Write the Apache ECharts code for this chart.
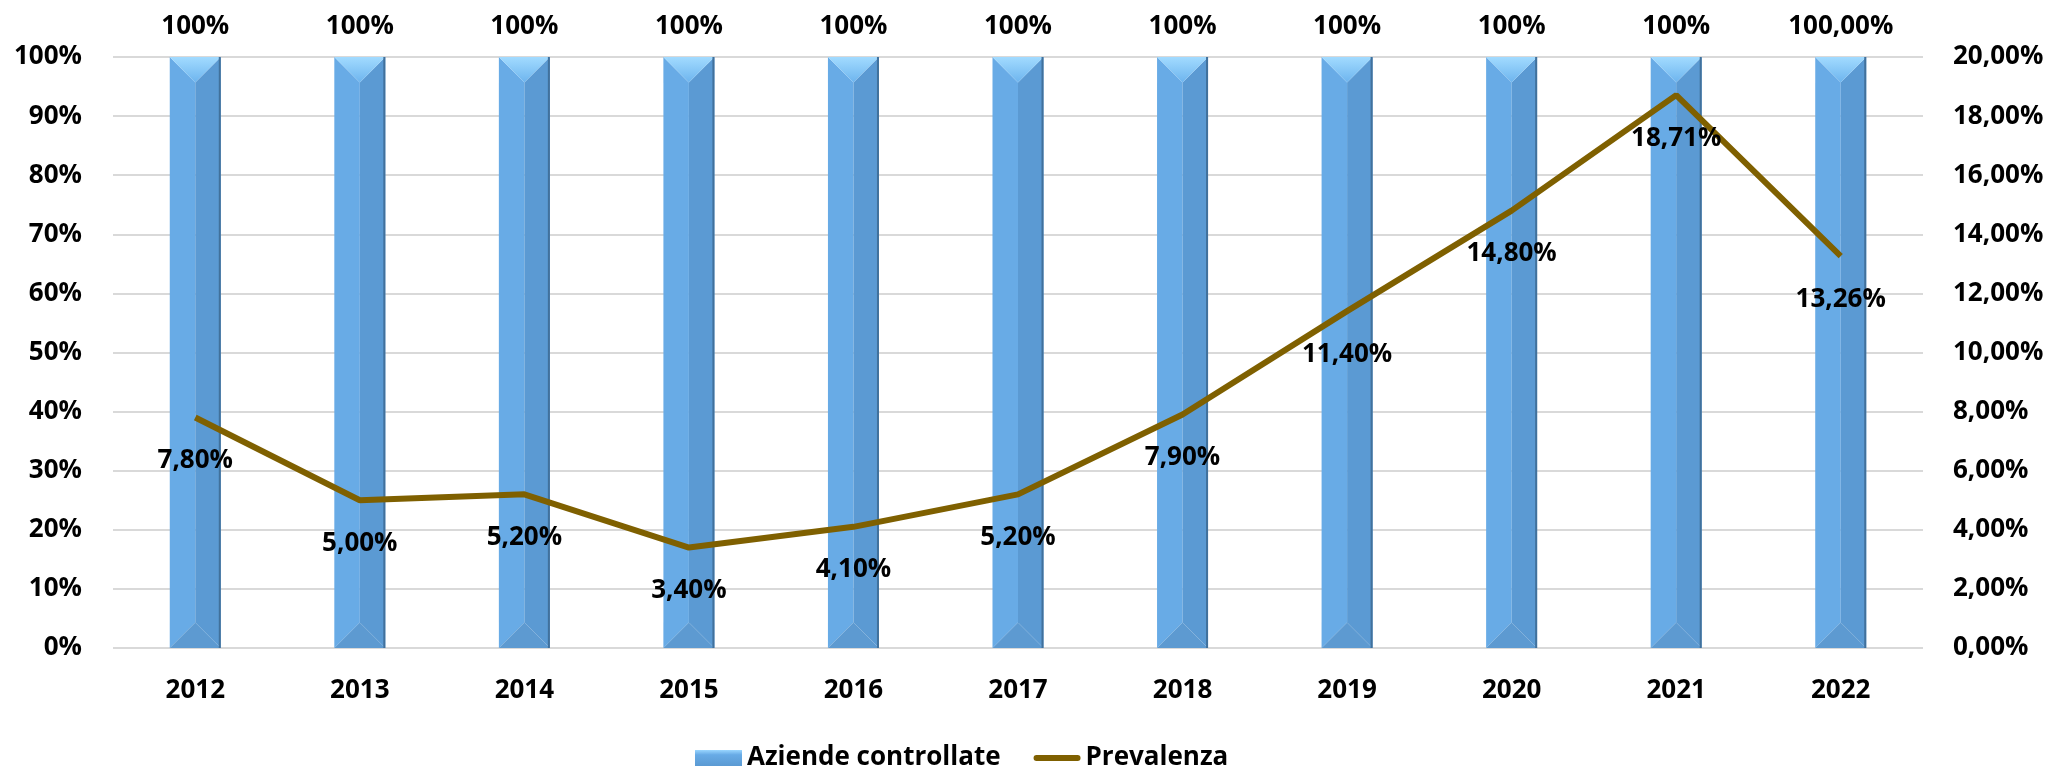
<!DOCTYPE html>
<html>
<head>
<meta charset="utf-8">
<script src="https://cdn.jsdelivr.net/npm/echarts@6/dist/echarts.min.js"></script>
<style>
html,body{margin:0;padding:0;background:#fff;}
#c{width:2053px;height:769px;}
</style>
</head>
<body>
<div id="c"></div>
<script>
const categories = ['2012','2013','2014','2015','2016','2017','2018','2019','2020','2021','2022'];
const aziendeControllate = [100,100,100,100,100,100,100,100,100,100,100];
const aziendeLabels = ['100%','100%','100%','100%','100%','100%','100%','100%','100%','100%','100,00%'];
const prevalenza = [7.80,5.00,5.20,3.40,4.10,5.20,7.90,11.40,14.80,18.71,13.26];
const leftTicks = ['0%','10%','20%','30%','40%','50%','60%','70%','80%','90%','100%'];
const rightTicks = ['0,00%','2,00%','4,00%','6,00%','8,00%','10,00%','12,00%','14,00%','16,00%','18,00%','20,00%'];

const FONT = 'Open Sans';
const FS = 26;
const chart = echarts.init(document.getElementById('c'));

function renderBar(params, api){
  const idx = api.value(0);
  const val = api.value(1);
  const top = api.coord([idx, val]);
  const bot = api.coord([idx, 0]);
  const w = api.size([1,0])[0] * 0.31;
  const cx = top[0];
  const l = cx - w/2, r = cx + w/2;
  const t = top[1], b = bot[1];
  const h = w/2;
  return {
    type:'group',
    children:[
      {type:'polygon', shape:{points:[[l,t],[cx,t+h],[cx,b-h],[l,b]]}, style:{fill:'#68ABE6'}},
      {type:'polygon', shape:{points:[[cx,t+h],[r,t],[r,b],[cx,b-h]]}, style:{fill:'#5B9AD3'}},
      {type:'polygon', shape:{points:[[l,t],[r,t],[cx,t+h]]}, style:{fill:new echarts.graphic.LinearGradient(0,0,0,1,[{offset:0,color:'#A2DBFF'},{offset:1,color:'#6DB4EE'}])}},
      {type:'polygon', shape:{points:[[l,b],[cx,b-h],[r,b]]}, style:{fill:'#5D9AD1'}},
      {type:'line', shape:{x1:r-1,y1:t,x2:r-1,y2:b}, style:{stroke:'#41719C',lineWidth:2}},
      {type:'text', x:cx, y:t-17, style:{text:aziendeLabels[params.dataIndex], fontFamily:FONT, fontWeight:'bold', fontSize:FS, fill:'#000', align:'center', verticalAlign:'bottom'}}
    ]
  };
}

chart.setOption({
  animation:false,
  backgroundColor:'#fff',
  grid:{left:113, right:130, top:57, bottom:121},
  legend:{
    left:690, top:740, itemWidth:47, itemHeight:16, itemGap:33,
    textStyle:{fontFamily:FONT, fontWeight:'bold', fontSize:FS, color:'#000'},
    data:[
      {name:'Aziende controllate', icon:'rect'},
      {name:'Prevalenza', icon:'path://M3,0 L44,0 A3,3 0 0 1 44,6 L3,6 A3,3 0 0 1 3,0 Z', itemStyle:{color:'#7F6000'}}
    ]
  },
  xAxis:{
    type:'category', data:categories,
    axisLine:{show:false}, axisTick:{show:false},
    axisLabel:{margin:30, fontFamily:FONT, fontWeight:'bold', fontSize:FS, color:'#000'}
  },
  yAxis:[
    {type:'value', min:0, max:100, interval:10,
     axisLabel:{margin:31, fontFamily:FONT, fontWeight:'bold', fontSize:FS, color:'#000',
       formatter:(v)=>leftTicks[Math.round(v/10)]},
     splitLine:{lineStyle:{color:'#D9D9D9', width:2}}},
    {type:'value', min:0, max:20, interval:2,
     axisLabel:{margin:30, fontFamily:FONT, fontWeight:'bold', fontSize:FS, color:'#000',
       formatter:(v)=>rightTicks[Math.round(v/2)]},
     splitLine:{show:false}}
  ],
  series:[
    {name:'Aziende controllate', type:'custom', renderItem:renderBar,
     itemStyle:{color:new echarts.graphic.LinearGradient(0,0,0,1,[{offset:0,color:'#9AD6FF'},{offset:0.3,color:'#68ABE6'},{offset:1,color:'#5B9AD3'}])},
     encode:{x:0,y:1},
     data:aziendeControllate.map((v,i)=>[i,v]), z:2},
    {name:'Prevalenza', type:'line', yAxisIndex:1, data:prevalenza,
     symbol:'circle', symbolSize:0.1, showSymbol:true, z:5,
     lineStyle:{color:'#7F6000', width:6},
     itemStyle:{color:'#7F6000'},
     label:{show:true, position:'bottom', distance:30, fontFamily:FONT, fontWeight:'bold', fontSize:FS, color:'#000',
       formatter:(p)=>p.value.toFixed(2).replace('.',',')+'%'}}
  ]
});
</script>
</body>
</html>
